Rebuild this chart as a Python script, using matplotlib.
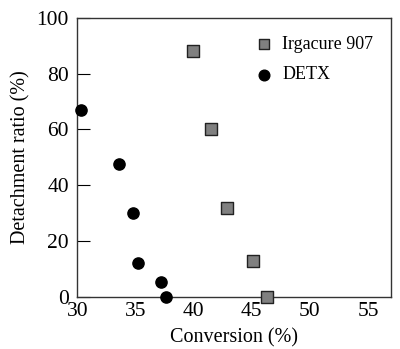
import matplotlib.pyplot as plt

plt.rcParams['font.family'] = ['Liberation Serif', 'DejaVu Serif']

# Irgacure 907 (squares)
irg_conv = [40.0, 41.5, 42.9, 45.1, 46.3]
irg_det = [88, 60, 32, 13, 0]

# DETX (circles)
detx_conv = [30.35, 33.6, 34.8, 35.2, 37.2, 37.6]
detx_det = [67, 47.5, 30, 12, 5.5, 0]

fig = plt.figure(figsize=(4.0, 3.49), dpi=100)
ax = fig.add_axes([0.193, 0.149, 0.785, 0.80])

ax.scatter(irg_conv, irg_det, marker='s', s=65, color='#808080',
           edgecolors='#222222', linewidths=1.0, label='Irgacure 907',
           zorder=3, clip_on=False)
ax.scatter(detx_conv, detx_det, marker='o', s=65, color='black',
           label='DETX', zorder=3, clip_on=False)

ax.set_xlim(30, 57)
ax.set_ylim(0, 100)
ax.set_xticks([30, 35, 40, 45, 50, 55])
ax.set_yticks([0, 20, 40, 60, 80, 100])
ax.tick_params(axis='y', direction='in', length=9, width=0.8, labelsize=15.5, pad=6)
ax.tick_params(axis='x', length=0, labelsize=15.5, pad=3.5)

for sp in ax.spines.values():
    sp.set_color('#333333')
    sp.set_linewidth(1.0)

ax.set_xlabel('Conversion (%)', fontsize=14.5, labelpad=5)
ax.set_ylabel('Detachment ratio (%)', fontsize=14.5, labelpad=4)

ax.legend(loc='upper right', frameon=False, fontsize=13, handletextpad=0.4,
          handlelength=1.2, borderaxespad=0.6, labelspacing=0.75,
          markerscale=0.95)

fig.savefig('out.png', dpi=100)
